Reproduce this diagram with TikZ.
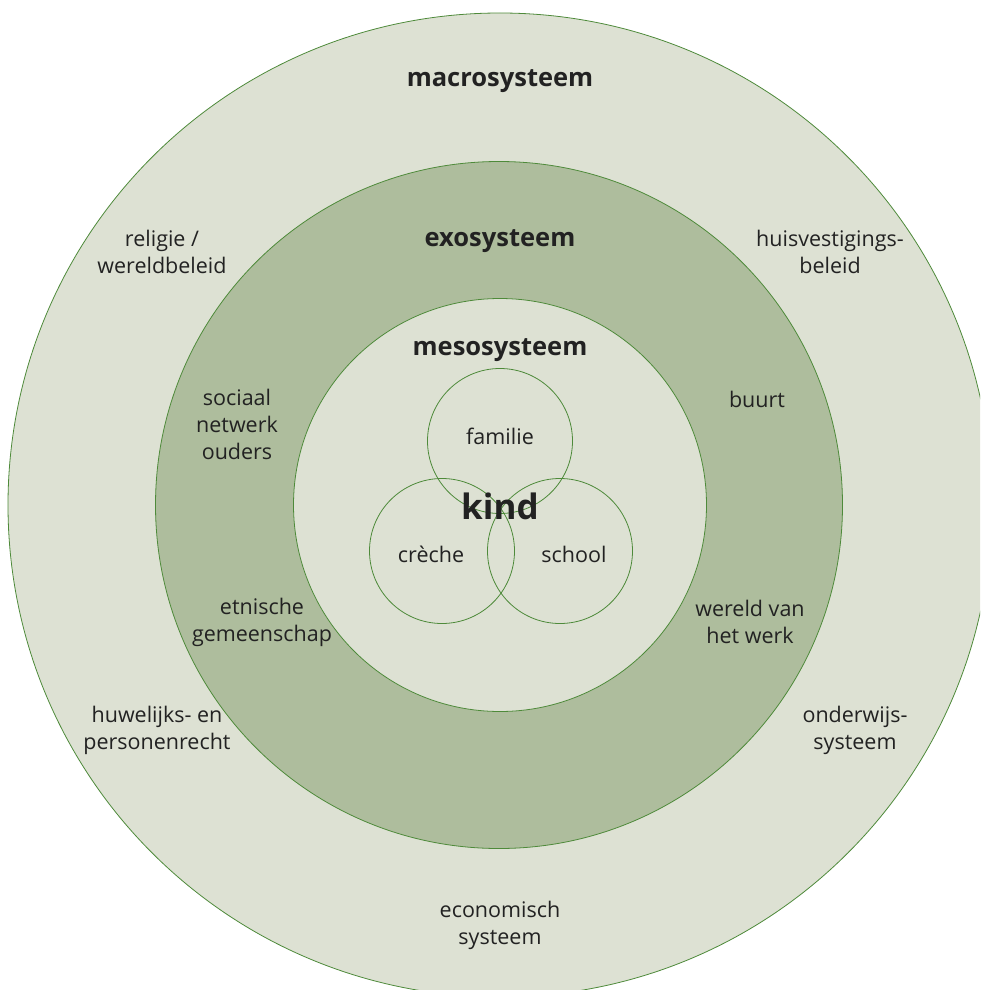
\documentclass[tikz,border=0pt]{standalone}
\usepackage{fontspec}
\setmainfont{Open Sans}
\usepackage{tikz}
\usepackage{xcolor}
\usetikzlibrary{positioning}
\definecolor{lightgreen}{RGB}{221,225,211}
\definecolor{midgreen}{RGB}{174,189,157}
\definecolor{linegreen}{RGB}{78,138,58}
\definecolor{textgrey}{RGB}{34,34,34}

\begin{document}
\begin{tikzpicture}[
    x=1pt, y=-1pt,
    ring/.style={circle, draw=linegreen, line width=0.8pt, inner sep=0pt},
    sub/.style={circle, draw=linegreen, line width=0.8pt, inner sep=0pt, minimum size=145pt},
    title/.style={text=textgrey, font=\fontsize{25.5}{30}\selectfont\bfseries},
    lab/.style={text=textgrey, align=center, font=\fontsize{21.5}{27}\selectfont}
]
\useasboundingbox (0,0) rectangle (980,990);
\clip (0,0) rectangle (980,990);

% Rings
\node[ring, fill=lightgreen, minimum size=984pt] (macro) at (500,505) {};
\node[ring, fill=midgreen, minimum size=687pt] (exo) at (499,505) {};
\node[ring, fill=lightgreen, minimum size=413pt] (meso) at (500,505) {};

% Micro circles
\node[sub] (familie) at (500,441) {};
\node[sub] (creche) at (442,551) {};
\node[sub] (school) at (560,551) {};

% Titles
\node[title] (macrot) at (500,81) {macrosysteem};
\node[title] (exot) at (500,241) {exosysteem};
\node[title] (mesot) at (500,350) {mesosysteem};

% Labels
\node[lab] at (500,436) {familie};
\node[lab] at (431,554) {crèche};
\node[lab] at (574,554) {school};
\node[text=textgrey, font=\fontsize{35}{40}\selectfont\bfseries] (kind) at (500,506) {kind};

\node[lab] at (162,252) {religie /\\wereldbeleid};
\node[lab] at (830,252) {huisvestigings-\\beleid};
\node[lab] at (237,424) {sociaal\\netwerk\\ouders};
\node[lab] at (757,399) {buurt};
\node[lab] at (262,622) {etnische\\gemeenschap};
\node[lab] at (750,622) {wereld van\\het werk};
\node[lab] at (157,730) {huwelijks- en\\personenrecht};
\node[lab] at (855,730) {onderwijs-\\systeem};
\node[lab] at (500,925) {economisch\\systeem};

\end{tikzpicture}
\end{document}
